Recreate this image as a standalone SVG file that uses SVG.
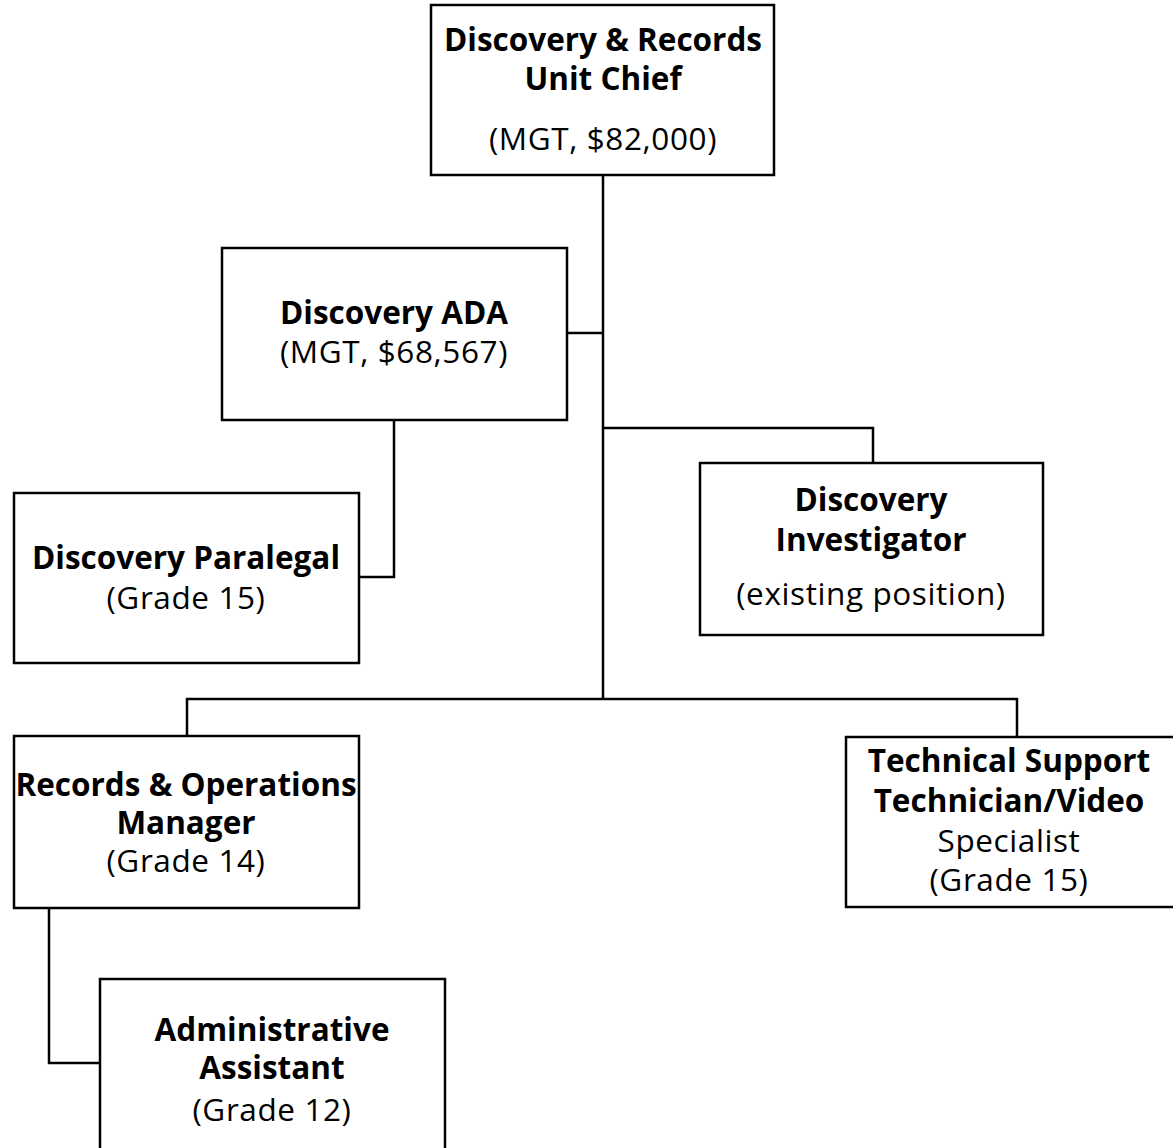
<svg xmlns="http://www.w3.org/2000/svg" width="1173" height="1148" viewBox="0 0 1173 1148">
<style>
.box{fill:#fff;stroke:#000;stroke-width:2.5}
.con{fill:none;stroke:#000;stroke-width:2.5}
text{font-family:"Open Sans","Noto Sans","Liberation Sans",sans-serif;font-size:31.5px;text-anchor:middle;fill:#000;letter-spacing:0.6px}
.b{font-weight:bold;letter-spacing:0}
</style>
<rect width="1173" height="1148" fill="#fff"/>
<g id="connectors">
<path class="con" d="M603 175V699"/>
<path class="con" d="M567 333H603"/>
<path class="con" d="M603 428H873V463"/>
<path class="con" d="M394 420V577H359"/>
<path class="con" d="M187 736V699H1017V737"/>
<path class="con" d="M49 908V1063H100"/>
</g>
<g id="unit-chief">
<rect class="box" x="431" y="5" width="343" height="170"/>
<text class="b" x="603" y="51">Discovery &amp; Records</text>
<text class="b" x="603" y="90">Unit Chief</text>
<text x="603" y="150">(MGT, $82,000)</text>
</g>
<g id="discovery-ada">
<rect class="box" x="222" y="248" width="345" height="172"/>
<text class="b" x="394" y="324">Discovery ADA</text>
<text x="394" y="363">(MGT, $68,567)</text>
</g>
<g id="discovery-paralegal">
<rect class="box" x="14" y="493" width="345" height="170"/>
<text class="b" x="186" y="569">Discovery Paralegal</text>
<text x="186" y="609">(Grade 15)</text>
</g>
<g id="discovery-investigator">
<rect class="box" x="700" y="463" width="343" height="172"/>
<text class="b" x="871" y="511">Discovery</text>
<text class="b" x="871" y="551">Investigator</text>
<text x="871" y="605">(existing position)</text>
</g>
<g id="records-manager">
<rect class="box" x="14" y="736" width="345" height="172"/>
<text class="b" x="186" y="796">Records &amp; Operations</text>
<text class="b" x="186" y="834">Manager</text>
<text x="186" y="872">(Grade 14)</text>
</g>
<g id="tech-support">
<rect class="box" x="846" y="737" width="330" height="170"/>
<text class="b" x="1009" y="772">Technical Support</text>
<text class="b" x="1009" y="812">Technician/Video</text>
<text x="1009" y="852">Specialist</text>
<text x="1009" y="891">(Grade 15)</text>
</g>
<g id="admin-assistant">
<rect class="box" x="100" y="979" width="345" height="175"/>
<text class="b" x="272" y="1041">Administrative</text>
<text class="b" x="272" y="1079">Assistant</text>
<text x="272" y="1121">(Grade 12)</text>
</g>
</svg>
